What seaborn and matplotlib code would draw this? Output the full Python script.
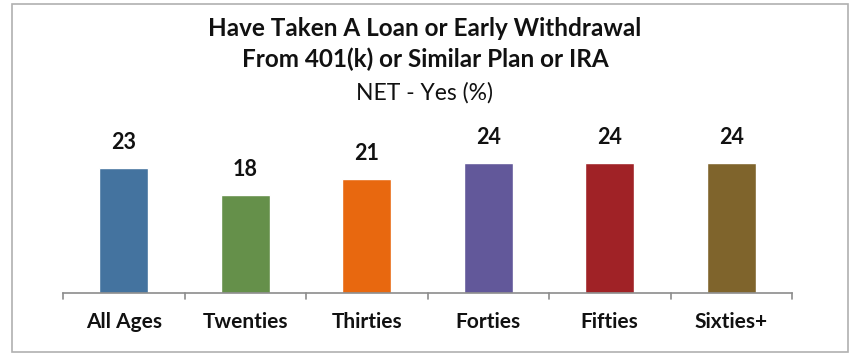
import matplotlib
matplotlib.use("Agg")
import matplotlib.pyplot as plt
import seaborn as sns
import pandas as pd
from matplotlib.patches import Rectangle

# --- data ---
groups = ["All Ages", "Twenties", "Thirties", "Forties", "Fifties", "Sixties+"]
values = [23, 18, 21, 24, 24, 24]
colors = ["#44739f", "#65904a", "#e8680f", "#62589a", "#a02226", "#7f642c"]

df = pd.DataFrame({"group": groups, "value": values})

sns.set_theme(style="white")
plt.rcParams["font.family"] = ["Lato", "DejaVu Sans"]

fig = plt.figure(figsize=(8.5, 3.58), dpi=100)
ax = fig.add_axes([63 / 850, 65 / 358, (792 - 63) / 850, 162.6 / 358])

sns.barplot(data=df, x="group", y="value", hue="group", palette=colors,
            width=0.40, legend=False, ax=ax, saturation=1)

ax.set_ylim(0, 30)
ax.set_xlim(-0.5, len(groups) - 0.5)
ax.set_xlabel("")
ax.set_ylabel("")
ax.set_yticks([])
for s in ["top", "right", "left"]:
    ax.spines[s].set_visible(False)
ax.spines["bottom"].set_color("#8c8c8c")
ax.spines["bottom"].set_linewidth(1.2)

# tick marks between categories
ax.set_xticks(range(len(groups)))
ax.set_xticklabels(groups, fontsize=15, fontweight="bold", color="#111111")
ax.tick_params(axis="x", length=0, pad=14)
for b in [i - 0.5 for i in range(len(groups) + 1)]:
    ax.plot([b, b], [0, -1.1], color="#8c8c8c", lw=1.2, clip_on=False)

# value labels
for i, v in enumerate(values):
    ax.text(i, v + 4.7, str(v), ha="center", va="center", fontsize=15.5,
            fontweight="bold", color="#111111", clip_on=False)

# titles
fig.text(0.5, 1 - 28 / 358, "Have Taken A Loan or Early Withdrawal", ha="center",
         va="center", fontsize=17.5, fontweight="bold", color="#111111")
fig.text(0.5, 1 - 59 / 358, "From 401(k) or Similar Plan or IRA", ha="center",
         va="center", fontsize=17.5, fontweight="bold", color="#111111")
fig.text(0.5, 1 - 93 / 358, "NET - Yes (%)", ha="center", va="center",
         fontsize=16.5, color="#111111")

# outer border
fig.patches.append(Rectangle((12 / 850, 6 / 358), 836 / 850, 348 / 358,
                             transform=fig.transFigure, fill=False,
                             edgecolor="#b0b0b0", lw=1.2))

fig.savefig("out.png", dpi=100, facecolor="white")
